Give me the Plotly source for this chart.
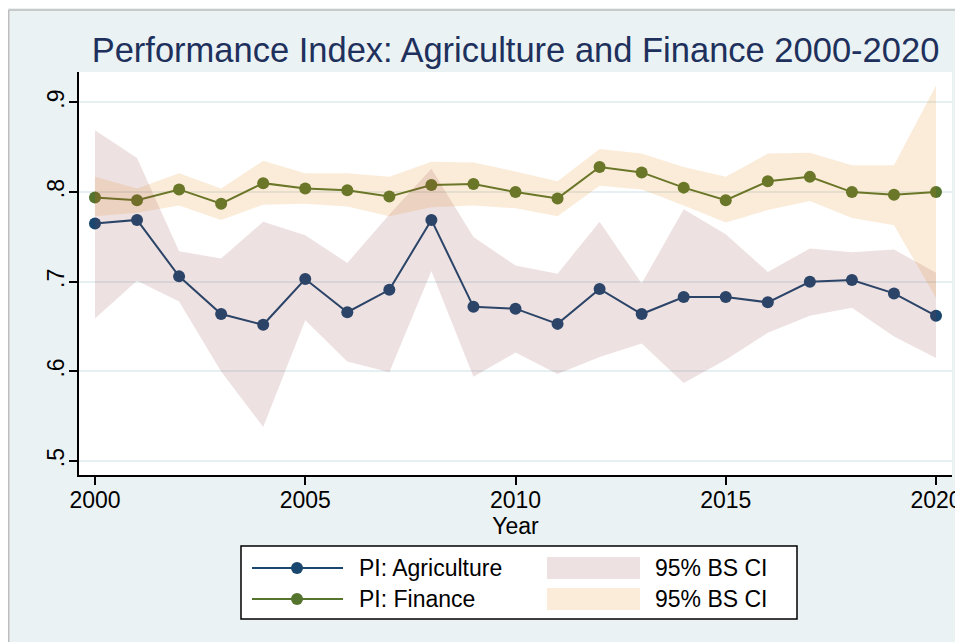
import plotly.graph_objects as go

# ---------------- data ----------------
years = list(range(2000, 2021))

pi_agriculture = [0.765, 0.769, 0.706, 0.664, 0.652, 0.703, 0.666, 0.691, 0.769, 0.672, 0.670,
                  0.653, 0.692, 0.664, 0.683, 0.683, 0.677, 0.700, 0.702, 0.687, 0.662]
ci_agri_upper = [0.869, 0.838, 0.734, 0.726, 0.767, 0.752, 0.721, 0.775, 0.826, 0.750, 0.718,
                 0.709, 0.767, 0.698, 0.781, 0.753, 0.711, 0.737, 0.733, 0.736, 0.710]
ci_agri_lower = [0.659, 0.701, 0.678, 0.600, 0.538, 0.657, 0.611, 0.599, 0.712, 0.594, 0.621,
                 0.597, 0.616, 0.631, 0.587, 0.613, 0.643, 0.662, 0.671, 0.639, 0.615]

pi_finance = [0.794, 0.791, 0.803, 0.787, 0.810, 0.804, 0.802, 0.795, 0.808, 0.809, 0.800,
              0.793, 0.828, 0.822, 0.805, 0.791, 0.812, 0.817, 0.800, 0.797, 0.800]
ci_fin_upper = [0.817, 0.804, 0.821, 0.804, 0.835, 0.821, 0.821, 0.817, 0.834, 0.833, 0.823,
                0.812, 0.848, 0.843, 0.828, 0.817, 0.843, 0.844, 0.830, 0.830, 0.919]
ci_fin_lower = [0.773, 0.777, 0.785, 0.769, 0.786, 0.787, 0.784, 0.773, 0.783, 0.785, 0.782,
                0.773, 0.807, 0.803, 0.785, 0.766, 0.780, 0.790, 0.771, 0.763, 0.682]

x_ticks = [2000, 2005, 2010, 2015, 2020]
y_ticks = [0.5, 0.6, 0.7, 0.8, 0.9]
y_tick_labels = [".5", ".6", ".7", ".8", ".9"]

series_names = ["PI: Agriculture", "PI: Finance"]
ci_name = "95% BS CI"
title_text = "Performance Index: Agriculture and Finance 2000-2020"
x_title = "Year"

# ---------------- styling ----------------
NAVY = "rgb(26,71,111)"
GREEN = "rgb(85,117,47)"
MAROON_FILL = "rgba(144,53,59,0.15)"
ORANGE_FILL = "rgba(227,126,0,0.15)"
REGION_BG = "#EAF2F3"
GRID = "#E6EFF1"
TITLE_COLOR = "rgb(32,48,92)"
FONT = "Liberation Sans, Arial, sans-serif"

W, H = 963, 642
L, R, T, B = 71, 944, 64, 467  # plot area in figure pixels (page adds an 8px body margin)


def px(xp):
    return (xp - L) / (R - L)


def py(yp):
    return (B - yp) / (B - T)


fig = go.Figure()

# lines first (the CI bands are drawn over them, as in the original)
for name, vals, col in [(series_names[0], pi_agriculture, NAVY),
                        (series_names[1], pi_finance, GREEN)]:
    fig.add_trace(go.Scatter(
        x=years, y=vals, name=name, mode="lines+markers",
        line=dict(color=col, width=2),
        marker=dict(color=col, size=12),
        showlegend=False,
    ))

for up, lo, fc in [(ci_agri_upper, ci_agri_lower, MAROON_FILL),
                   (ci_fin_upper, ci_fin_lower, ORANGE_FILL)]:
    fig.add_trace(go.Scatter(
        x=years + years[::-1], y=up + lo[::-1], name=ci_name,
        mode="lines", fill="toself", fillcolor=fc,
        line=dict(width=0, color=fc), hoverinfo="skip",
        showlegend=False,
    ))

shapes = []
# thin grey frame of the graph region (top and left edges)
shapes.append(dict(type="line", xref="paper", yref="paper", x0=px(0.75), x1=px(W + 20),
                   y0=py(2), y1=py(2), line=dict(color="#BDBDBD", width=1.5), layer="above"))
shapes.append(dict(type="line", xref="paper", yref="paper", x0=px(0.75), x1=px(0.75),
                   y0=py(2), y1=py(H + 20), line=dict(color="#BDBDBD", width=1.5), layer="above"))

# legend box
shapes.append(dict(type="rect", xref="paper", yref="paper", x0=px(233), x1=px(789),
                   y0=py(611), y1=py(538), fillcolor="white",
                   line=dict(color="black", width=1.5), layer="above"))
annotations = []
rows = [(560, NAVY, MAROON_FILL, series_names[0]), (591, GREEN, ORANGE_FILL, series_names[1])]
for yc, col, fc, nm in rows:
    shapes.append(dict(type="line", xref="paper", yref="paper", x0=px(244), x1=px(335),
                       y0=py(yc), y1=py(yc), line=dict(color=col, width=2), layer="above"))
    shapes.append(dict(type="circle", xref="paper", yref="paper", x0=px(283), x1=px(295),
                       y0=py(yc + 6), y1=py(yc - 6), fillcolor=col,
                       line=dict(color=col, width=0), layer="above"))
    shapes.append(dict(type="rect", xref="paper", yref="paper", x0=px(539), x1=px(632),
                       y0=py(yc + 11), y1=py(yc - 11), fillcolor=fc,
                       line=dict(width=0), layer="above"))
    annotations.append(dict(xref="paper", yref="paper", x=px(349), y=py(yc), text=nm,
                            showarrow=False, xanchor="left", yanchor="middle",
                            font=dict(family=FONT, size=23, color="black")))
    annotations.append(dict(xref="paper", yref="paper", x=px(645), y=py(yc), text=ci_name,
                            showarrow=False, xanchor="left", yanchor="middle",
                            font=dict(family=FONT, size=23, color="black")))

fig.update_layout(
    width=W, height=H,
    margin=dict(l=L, r=W - R, t=T, b=H - B, autoexpand=False),
    paper_bgcolor=REGION_BG,
    plot_bgcolor="white",
    showlegend=False,
    font=dict(family=FONT, size=23, color="black"),
    title=dict(text=title_text, x=0.5, xref="paper", xanchor="center",
               y=1 - 42 / H, yref="container", yanchor="middle",
               font=dict(family=FONT, size=34.5, color=TITLE_COLOR)),
    shapes=shapes,
    annotations=annotations,
)

fig.update_xaxes(
    range=[1999.62, 2020.38], tickmode="array", tickvals=x_ticks,
    showgrid=False, zeroline=False,
    showline=True, linecolor="black", linewidth=1.5,
    ticks="outside", ticklen=8, tickwidth=1.5, tickcolor="black",
    ticklabelstandoff=-4,
    tickfont=dict(family=FONT, size=23, color="black"),
    title=dict(text=x_title, standoff=0, font=dict(family=FONT, size=23, color="black")),
)
fig.update_yaxes(
    range=[0.4844, 0.934], tickmode="array", tickvals=y_ticks, ticktext=y_tick_labels,
    tickangle=-90,
    showgrid=True, gridcolor=GRID, gridwidth=1.5, zeroline=False,
    showline=True, linecolor="black", linewidth=1.5,
    ticks="outside", ticklen=8, tickwidth=1.5, tickcolor="black",
    ticklabelstandoff=-4,
    tickfont=dict(family=FONT, size=23, color="black"),
)

fig.write_html("out.html")
